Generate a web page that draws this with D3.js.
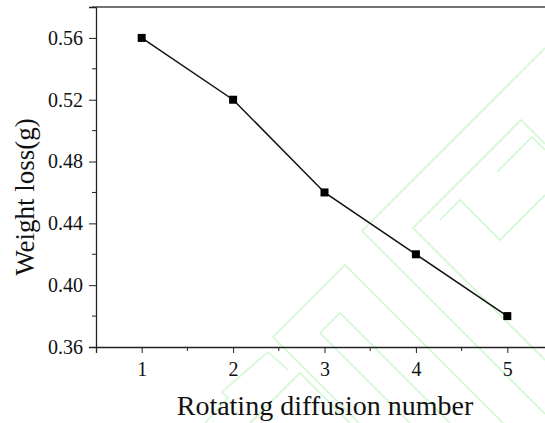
<!DOCTYPE html>
<html>
<head>
<style>
  body { margin: 0; background: #fff; }
  svg { display: block; }
</style>
<script src="https://d3js.org/d3.v7.min.js"></script>
</head>
<body>
<script>
const rotations = [1, 2, 3, 4, 5];
const weightLoss = [0.56, 0.52, 0.46, 0.42, 0.38];
const yTicks = [0.36, 0.40, 0.44, 0.48, 0.52, 0.56];
const yMinor = [0.38, 0.42, 0.46, 0.50, 0.54, 0.58];
const xTicks = [1, 2, 3, 4, 5];
const xMinor = [1.5, 2.5, 3.5, 4.5, 5.5];

const w = 545, h = 423;
const mLeft = 96, mTop = 7, mBottom = 347, mRight = 553;

const svg = d3.select("body").append("svg")
  .attr("width", w).attr("height", h)
  .style("font-family", "'Liberation Serif', 'Times New Roman', serif");

// faint green watermark outlines
const wm = [
  [[545,48],[521,72],[362,231],[545,414]],
  [[545,144],[521,120],[413,228],[545,360]],
  [[497,172],[532,137],[545,150]],
  [[545,465],[345,265],[273,337],[359,423]],
  [[320,333],[340,313],[450,423]],
  [[320,333],[410,423]],
  [[288,370],[268,352],[222,392],[228,398],[205,423]],
  [[440,220],[460,200],[500,240],[545,195]],
  [[250,423],[300,373],[350,423]]
];
svg.append("g").selectAll("polyline").data(wm).join("polyline")
  .attr("points", d => d.map(p => p.join(",")).join(" "))
  .attr("fill", "none").attr("stroke", "#d2f8d2").attr("stroke-width", 1.6);

const x = d3.scaleLinear().domain([0.5, 5.5]).range([mLeft, mRight]);
const y = d3.scaleLinear().domain([0.36, 0.58]).range([mBottom, mTop]);

const xAxis = svg.append("g").attr("transform", `translate(0,${mBottom})`)
  .call(d3.axisBottom(x).tickValues(xTicks).tickSize(6).tickPadding(9).tickFormat(d3.format("d")));
xAxis.append("g").selectAll("line").data(xMinor).join("line")
  .attr("x1", d => x(d)).attr("x2", d => x(d)).attr("y1", 0).attr("y2", 4)
  .attr("stroke", "#222");

const yAxis = svg.append("g").attr("transform", `translate(${mLeft},0)`)
  .call(d3.axisLeft(y).tickValues(yTicks).tickSize(7).tickPadding(6).tickFormat(d3.format(".2f")));
yAxis.append("g").selectAll("line").data(yMinor).join("line")
  .attr("y1", d => y(d)).attr("y2", d => y(d)).attr("x1", 0).attr("x2", -4)
  .attr("stroke", "#222");

svg.selectAll(".domain").attr("stroke", "#222").attr("stroke-width", 1.3);
svg.selectAll(".tick line").attr("stroke", "#222");
svg.selectAll(".tick text").attr("font-size", 20).attr("fill", "#111")
  .attr("font-family", "'Liberation Serif', serif");
xAxis.selectAll(".tick text").attr("dy", "0.71em");

// top frame line
svg.append("line").attr("x1", mLeft).attr("x2", w).attr("y1", y(0.58)).attr("y2", y(0.58))
  .attr("stroke", "#444").attr("stroke-width", 1.3);

svg.append("path")
  .attr("d", d3.line().x((d, i) => x(rotations[i])).y(d => y(d))(weightLoss))
  .attr("fill", "none").attr("stroke", "#111").attr("stroke-width", 1.5);

svg.selectAll("rect.pt").data(weightLoss).join("rect").attr("class", "pt")
  .attr("x", (d, i) => x(rotations[i]) - 4).attr("y", d => y(d) - 4)
  .attr("width", 8).attr("height", 8).attr("fill", "#000");

svg.append("text").attr("x", 325).attr("y", 415).attr("text-anchor", "middle")
  .attr("font-size", 28).attr("fill", "#111").text("Rotating diffusion number");

svg.append("text").attr("transform", "translate(34,197) rotate(-90)")
  .attr("text-anchor", "middle").attr("font-size", 27).attr("fill", "#111")
  .text("Weight loss(g)");
</script>
</body>
</html>
